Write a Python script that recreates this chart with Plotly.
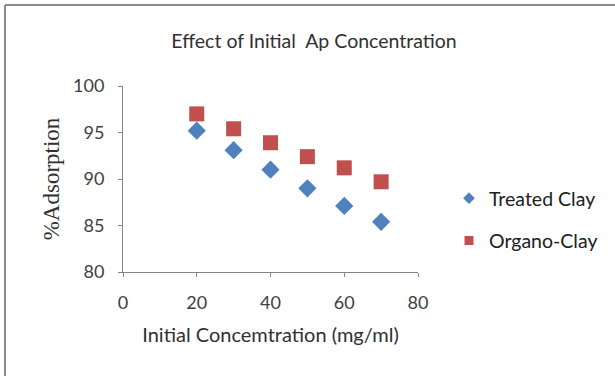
import plotly.graph_objects as go

x_conc = [20, 30, 40, 50, 60, 70]
treated_clay = [95.2, 93.1, 91.0, 89.0, 87.1, 85.4]
organo_clay = [97.0, 95.4, 93.9, 92.4, 91.2, 89.7]
x_ticks = [0, 20, 40, 60, 80]
y_ticks = [80, 85, 90, 95, 100]

W, H = 615, 376
L, R, T, B = 123, 418, 86, 272
pw, ph = R - L, B - T

BLUE, RED = "#4F81BD", "#C0504D"
fig = go.Figure()
fig.add_trace(go.Scatter(x=x_conc, y=treated_clay, mode="markers", name="Treated Clay",
                         showlegend=False,
                         marker=dict(symbol="diamond", size=14, color=BLUE)))
fig.add_trace(go.Scatter(x=x_conc, y=organo_clay, mode="markers", name="Organo-Clay",
                         showlegend=False,
                         marker=dict(symbol="square", size=15, color=RED)))
# legend entries with smaller symbols
fig.add_trace(go.Scatter(x=[None], y=[None], mode="markers", name="Treated Clay",
                         legendgroup="a", marker=dict(symbol="diamond", size=9, color=BLUE)))
fig.add_trace(go.Scatter(x=[None], y=[None], mode="markers", name="Organo-Clay",
                         legendgroup="b", marker=dict(symbol="square", size=9, color=RED)))

FAM = "Lato, 'Open Sans', sans-serif"
axfont = dict(family=FAM, size=18, color="#404040")
fig.update_layout(
    width=W, height=H,
    margin=dict(l=L, r=W - R, t=T, b=H - B, autoexpand=False),
    paper_bgcolor="white", plot_bgcolor="white",
    title=dict(text="Effect of Initial  Ap Concentration", x=314 / W, xanchor="center",
               y=1 - 41 / H, yanchor="middle",
               font=dict(family=FAM, size=19.5, color="#303030")),
    xaxis=dict(range=[0, 80], tickvals=x_ticks, showgrid=False, zeroline=False,
               showline=True, linecolor="#868686", linewidth=1,
               ticks="outside", ticklen=4, tickcolor="#868686",
               tickfont=axfont, ticklabelstandoff=10, automargin=False,
               title=dict(text="Initial Concemtration (mg/ml)", standoff=16,
                          font=dict(family=FAM, size=20, color="#303030"))),
    yaxis=dict(range=[80, 100], tickvals=y_ticks, showgrid=False, zeroline=False,
               showline=True, linecolor="#868686", linewidth=1,
               ticks="outside", ticklen=4, tickcolor="#868686",
               tickfont=axfont, ticklabelstandoff=10, automargin=False,
               title=dict(text="%Adsorption", standoff=7,
                          font=dict(family="'Liberation Serif', 'DejaVu Serif', serif", size=23, color="#303030"))),
    legend=dict(x=(449 - L) / pw, y=1 - (179 - T) / ph, xanchor="left", yanchor="top",
                font=dict(family=FAM, size=19.5, color="#202020"),
                bgcolor="rgba(0,0,0,0)", tracegroupgap=14, itemsizing="trace"),
    showlegend=True,
)

# outer chart border (top and left visible)
x0 = (5 - L) / pw
x1 = (W + 10 - L) / pw
ytop = (B - 5) / ph
ybot = (B - H - 10) / ph
fig.add_shape(type="line", xref="paper", yref="paper", x0=x0, x1=x1, y0=ytop, y1=ytop,
              line=dict(color="#8C8C8C", width=2))
fig.add_shape(type="line", xref="paper", yref="paper", x0=x0, x1=x0, y0=ybot, y1=ytop,
              line=dict(color="#8C8C8C", width=2))

fig.write_html("out.html")
